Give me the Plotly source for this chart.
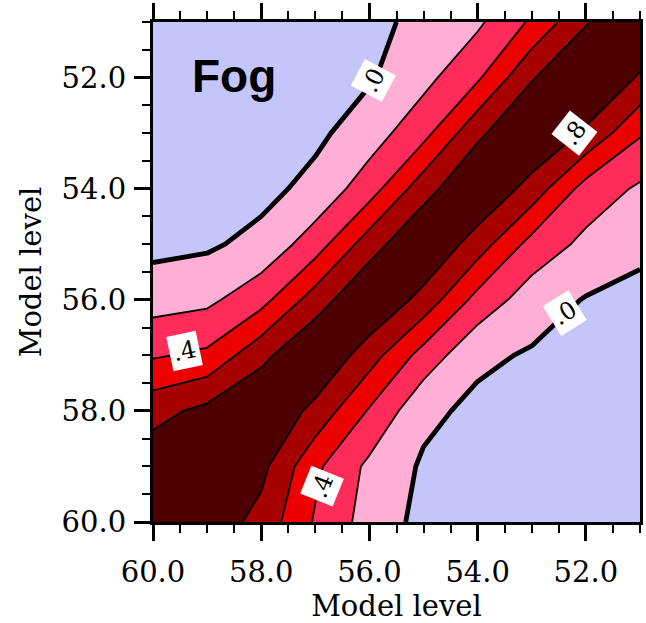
import plotly.graph_objects as go

# Model levels used on both axes
levels = [51, 52, 53, 54, 55, 56, 57, 58, 59, 60]

# Correlation between model levels (rows: y level, columns: x level)
corr = [
    [1.000, 0.785, 0.430, 0.165, 0.050, -0.050, -0.090, -0.120, -0.140, -0.150],
    [0.778, 1.000, 0.785, 0.370, 0.140, -0.020, -0.070, -0.100, -0.120, -0.130],
    [0.420, 0.770, 1.000, 0.760, 0.335, 0.106, -0.043, -0.080, -0.100, -0.120],
    [0.170, 0.320, 0.720, 1.000, 0.720, 0.306, 0.060, -0.060, -0.100, -0.100],
    [0.050, 0.150, 0.330, 0.700, 1.000, 0.710, 0.300, 0.060, -0.030, -0.057],
    [-0.060, -0.011, 0.098, 0.330, 0.730, 1.000, 0.700, 0.330, 0.155, 0.116],
    [-0.090, -0.060, -0.020, 0.040, 0.320, 0.690, 1.000, 0.745, 0.440, 0.379],
    [-0.120, -0.100, -0.080, -0.045, 0.047, 0.380, 0.740, 1.000, 0.857, 0.730],
    [-0.140, -0.120, -0.100, -0.100, -0.026, 0.155, 0.440, 0.857, 1.000, 0.936],
    [-0.150, -0.130, -0.120, -0.100, -0.057, 0.116, 0.379, 0.730, 0.936, 1.000],
]

contour_start = 0.0
contour_end = 0.8
contour_step = 0.2

x_ticks = [60, 58, 56, 54, 52]
y_ticks = [52, 54, 56, 58, 60]

# Fill colours, from below the lowest level up to above the highest
band_colors = ["#C3C5FB", "#FFAED6", "#FF2B58", "#EC0000", "#A60000", "#4E0000"]

# In-line contour labels: (level, x, y, rotation)
label_spots = [
    (0.0, 55.92, 52.05, -62),
    (0.8, 52.21, 53.00, -52),
    (0.4, 59.41, 56.92, -12),
    (0.0, 52.39, 56.23, -32),
    (0.4, 56.87, 59.36, -68),
]

serif = "DejaVu Serif"
n_bands = len(band_colors) - 1
colorscale = [[i / n_bands, c] for i, c in enumerate(band_colors)]

fig = go.Figure()

fig.add_trace(go.Contour(
    x=levels, y=levels, z=corr,
    contours=dict(start=contour_start, end=contour_end, size=contour_step,
                  coloring="fill", showlines=True),
    colorscale=colorscale,
    line=dict(color="black", width=1.8, smoothing=0),
    showscale=False, hoverinfo="skip",
))

# Heavier zero line
fig.add_trace(go.Contour(
    x=levels, y=levels, z=corr,
    contours=dict(start=0.0, end=0.0, size=contour_step, coloring="none"),
    line=dict(color="black", width=4.8, smoothing=0),
    showscale=False, hoverinfo="skip",
))

for lev, lx, ly, ang in label_spots:
    txt = f"{lev:.1f}".lstrip("0")
    fig.add_annotation(
        x=lx, y=ly, xref="x", yref="y", text=txt, showarrow=False,
        textangle=ang, bgcolor="white", borderpad=3,
        font=dict(family=serif, size=24, color="black"),
    )

fig.add_annotation(
    x=0.076, y=0.893, xref="paper", yref="paper", xanchor="left", yanchor="middle",
    text="<b>Fog</b>", showarrow=False,
    font=dict(family="Liberation Sans", size=46, color="black"),
)

axis_common = dict(
    ticks="outside", ticklen=16, tickwidth=3, tickcolor="black",
    showline=True, linewidth=3, linecolor="black",
    showgrid=False, zeroline=False, tickformat=".1f",
    tickfont=dict(family=serif, size=29, color="black"),
    minor=dict(dtick=0.5, ticklen=8, tickwidth=2, ticks="outside", tickcolor="black"),
)

fig.update_xaxes(
    range=[60, 51], tickmode="array", tickvals=x_ticks, mirror="ticks",
    ticklabelstandoff=6,
    title=dict(text="Model level", font=dict(family=serif, size=29, color="black"), standoff=10),
    **axis_common,
)
fig.update_yaxes(
    range=[60, 51], tickmode="array", tickvals=y_ticks, mirror=True,
    ticklabelstandoff=2,
    title=dict(text="Model level", font=dict(family=serif, size=29, color="black"), standoff=12),
    **axis_common,
)

fig.update_layout(
    width=646, height=623,
    margin=dict(l=153, r=3, t=22, b=101),
    paper_bgcolor="white", plot_bgcolor="white",
    showlegend=False,
)

fig.write_html("out.html")
